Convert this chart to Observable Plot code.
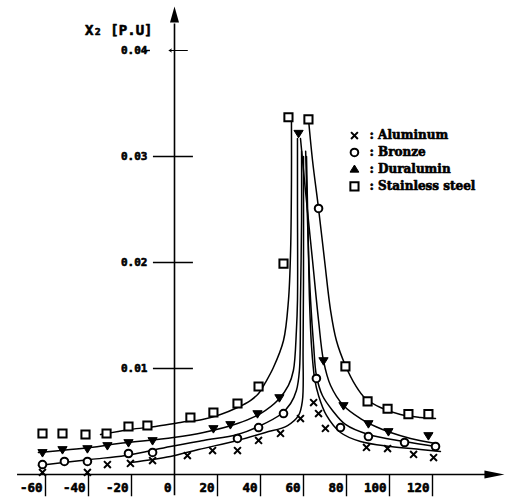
<!DOCTYPE html>
<html><head><meta charset="utf-8">
<script src="https://cdn.jsdelivr.net/npm/d3@7"></script>
<script src="https://cdn.jsdelivr.net/npm/@observablehq/plot@0.6"></script>
<style>body{margin:0;background:#fff}</style></head>
<body><div id="chart"></div>
<script>
// ---- tick values and labels ----
const xTicks = [-60, -40, -20, 0, 20, 40, 60, 80, 100, 120];
const xTickLabels = ["-60", "-40", "-20", "0", "20", "40", "60", "80", "100", "120"];
const yTicks = [0.01, 0.02, 0.03, 0.04];
const yTickLabels = ["0.01", "0.02", "0.03", "0.04"];
const yTitle = "X₂ [P.U]";
const seriesNames = ["Aluminum", "Bronze", "Duralumin", "Stainless steel"];

// ---- measured points [x, X2] ----
const aluminumPts = [[-61.4,.00019],[-40.5,.00019],[-31.2,.00094],[-20.5,.00104],[-10.2,.00132],[6.0,.00179],[17.7,.00226],[29.3,.00226],[39.1,.00321],[49.3,.00387],[58.6,.00528],[64.7,.00679],[67.0,.00575],[70.2,.00434],[89.3,.00255],[99.1,.00245],[111.2,.00189],[120.5,.00160]];
const bronzePts = [[-61.4,.00094],[-51.2,.00123],[-40.5,.00123],[-21.4,.00198],[-10.2,.00208],[29.3,.00340],[39.1,.00443],[50.7,.00575],[67.0,.0251],[66.0,.00906],[77.2,.00443],[90.2,.00358],[107.0,.00302],[121.4,.00264]];
const duraluminPts = [[-61.4,.00208],[-52.1,.00236],[-40.5,.00245],[-31.2,.00274],[-21.4,.00302],[-10.2,.00321],[18.1,.00434],[26.0,.00472],[38.6,.00575],[48.8,.00726],[57.7,.0322],[69.3,.01075],[78.6,.00651],[90.2,.00481],[99.5,.00406],[118.1,.00368]];
const stainlessPts = [[-61.4,.00387],[-52.1,.00387],[-41.4,.00377],[-31.6,.00387],[-21.4,.00453],[-12.6,.00462],[7.4,.00538],[18.1,.00585],[29.3,.00670],[39.1,.00830],[50.7,.0199],[53.0,.0337],[62.3,.0335],[79.5,.0102],[89.8,.0069],[99.1,.0062],[108.8,.0057],[118.1,.0057]];

// ---- hand-drawn fitted curves (left and right branches) ----
const aluminumLeft = [[-20.5,.00113],[-1.9,.00170],[11.2,.00236],[29.3,.00321],[42.3,.00396],[52.6,.00462],[57.7,.00557],[59.5,.00698],[59.8,.0117],[60.0,.0183],[60.0,.0300]];
const aluminumRight = [[61.4,.0300],[62.3,.0211],[62.8,.0164],[63.7,.0122],[65.2,.0090],[67.0,.00745],[70.7,.00557],[77.2,.00396],[86.5,.00311],[100.5,.00264],[114.4,.00236],[123.7,.00217]];
const bronzeLeft = [[-63.3,.00085],[-39.1,.00142],[-22.8,.00179],[-1.9,.00264],[13.5,.00321],[29.3,.00377],[39.1,.00453],[49.3,.00566],[54.0,.00670],[56.7,.00792],[58.1,.00981],[58.6,.01642],[59.1,.02396],[59.1,.0305]];
const bronzeRight = [[61.0,.0305],[62.3,.0211],[63.3,.0164],[64.7,.0122],[66.0,.00934],[68.8,.00745],[73.5,.00604],[79.5,.00472],[90.2,.00377],[107.0,.00311],[121.4,.00264]];
const duraluminLeft = [[-63.3,.00208],[-39.1,.00255],[-26.0,.00292],[-0.5,.00349],[13.5,.00396],[29.3,.00481],[40.0,.00575],[48.4,.00708],[53.0,.00840],[55.3,.00981],[56.7,.01358],[57.2,.01642],[57.2,.02585],[57.2,.03170]];
const duraluminRight = [[58.6,.03170],[60.9,.02679],[64.2,.02019],[67.0,.01453],[69.3,.01075],[72.6,.00840],[78.6,.00651],[86.5,.00528],[93.5,.00453],[100.5,.00396],[109.8,.00340],[121.4,.00292]];
const stainlessLeft = [[-34.4,.00377],[-20.5,.00425],[-8.8,.00453],[2.8,.00491],[13.0,.00519],[21.4,.00566],[29.3,.00632],[35.3,.00698],[39.1,.00764],[42.3,.00868],[46.0,.01009],[50.7,.01264],[53.0,.01642],[54.0,.02113],[54.4,.02774],[54.4,.03358]];
const stainlessRight = [[62.3,.03358],[64.2,.02962],[67.0,.02509],[69.8,.02019],[72.6,.01547],[75.3,.01264],[79.5,.01028],[84.2,.00840],[88.8,.00717],[95.8,.00632],[105.1,.00566],[114.4,.00538],[121.4,.00528]];

const seriesPoints = [aluminumPts, bronzePts, duraluminPts, stainlessPts];
const seriesCurves = [[aluminumLeft, aluminumRight], [bronzeLeft, bronzeRight], [duraluminLeft, duraluminRight], [stainlessLeft, stainlessRight]];

// ---- custom symbols ----
const triDown = {draw(c, size) { const s = Math.sqrt(size); c.moveTo(-0.62*s, -0.38*s); c.lineTo(0.62*s, -0.38*s); c.lineTo(0, 0.62*s); c.closePath(); }};
const triUp = {draw(c, size) { const s = Math.sqrt(size); c.moveTo(-0.62*s, 0.38*s); c.lineTo(0.62*s, 0.38*s); c.lineTo(0, -0.62*s); c.closePath(); }};
const headRight = {draw(c) { c.moveTo(-10, -4); c.lineTo(10, 0); c.lineTo(-10, 4); c.closePath(); }};
const headUp = {draw(c) { c.moveTo(0, -9); c.lineTo(4.5, 7); c.lineTo(-4.5, 7); c.closePath(); }};

const markerStyles = [
  {symbol: "times", r: 3.2, fill: "none", stroke: "black", strokeWidth: 2},
  {symbol: "circle", r: 3.8, fill: "white", stroke: "black", strokeWidth: 2},
  {symbol: triDown, r: 4.2, fill: "black", stroke: "black", strokeWidth: 1},
  {symbol: "square", r: 4.6, fill: "white", stroke: "black", strokeWidth: 2}
];
const legendStyles = [markerStyles[0], markerStyles[1], {symbol: triUp, r: 4, fill: "black", stroke: "black", strokeWidth: 1}, markerStyles[3]];

const curveRows = seriesCurves.flatMap((branches, s) =>
  branches.flatMap((pts, b) => pts.map(([x, y]) => ({x, y, key: s + "-" + b}))));

const legendX = 83.7, legendTextX = 90.7, legendY0 = 0.03198, legendStep = 0.0016;
const mono = "DejaVu Sans Mono, Liberation Mono, monospace";
const heavy = {fill: "black", stroke: "black", strokeWidth: 0.6};

const chart = Plot.plot({
  width: 513, height: 502,
  marginLeft: 45, marginRight: 81, marginTop: 50, marginBottom: 28,
  x: {domain: [-60, 120], axis: null},
  y: {domain: [0, 0.04], axis: null},
  style: {background: "white", color: "black"},
  marks: [
    // axes lines and arrowheads
    Plot.ruleY([0], {y: d => d, x1: () => -73, x2: () => 146, stroke: "black", strokeWidth: 1.6}),
    Plot.ruleX([0], {x: d => d, y1: () => -0.002, y2: () => 0.0425, stroke: "black", strokeWidth: 1.6}),
    Plot.dot([0], {x: () => 148.8, y: () => 0, symbol: headRight, fill: "black", stroke: "none"}),
    Plot.dot([0], {x: () => 0, y: () => 0.0433, symbol: headUp, fill: "black", stroke: "none"}),
    // y ticks
    Plot.ruleY(yTicks.slice(0, 3), {y: d => d, x1: () => -9.8, x2: () => 8.8, stroke: "black", strokeWidth: 1.4}),
    Plot.ruleY(yTicks.slice(3), {y: d => d, x1: () => -13.8, x2: () => -11.2, stroke: "black", strokeWidth: 1.4}),
    Plot.arrow(yTicks.slice(3), {x1: () => 6, x2: () => -2.5, y1: d => d, y2: d => d, headLength: 4, stroke: "black", strokeWidth: 1}),
    Plot.text(yTicks, {x: () => 0, y: d => d, text: (d, i) => yTickLabels[i], textAnchor: "end", dx: -27, fontFamily: mono, fontWeight: "bold", fontSize: 11, ...heavy}),
    // x ticks
    Plot.ruleX(xTicks.filter(d => d !== 0), {x: d => d, y1: () => 0, y2: () => -0.0021, stroke: "black", strokeWidth: 1.4}),
    Plot.text(xTicks, {x: d => d, y: () => -0.00132, text: (d, i) => xTickLabels[i], textAnchor: "end", dx: -3, fontFamily: mono, fontWeight: "bold", fontSize: 12.5, ...heavy}),
    // y title
    Plot.text([yTitle], {x: () => 0, y: () => 0.0419, text: d => d, textAnchor: "end", dx: -22, fontFamily: mono, fontWeight: "bold", fontSize: 14, ...heavy}),
    // fitted curves
    Plot.line(curveRows, {x: "x", y: "y", z: "key", curve: "catmull-rom", stroke: "black", strokeWidth: 1.5}),
    // measured points
    ...seriesPoints.map((pts, i) => Plot.dot(pts, {x: d => d[0], y: d => d[1], ...markerStyles[i]})),
    // legend
    ...seriesNames.map((name, i) => Plot.dot([name], {x: () => legendX, y: () => legendY0 - i * legendStep, ...legendStyles[i]})),
    Plot.text(seriesNames, {x: () => legendTextX, y: (d, i) => legendY0 - i * legendStep, text: d => ": " + d, textAnchor: "start", fontFamily: "DejaVu Serif", fontWeight: "bold", fontSize: 12, ...heavy})
  ]
});
document.getElementById("chart").appendChild(chart);
</script>
</body></html>
